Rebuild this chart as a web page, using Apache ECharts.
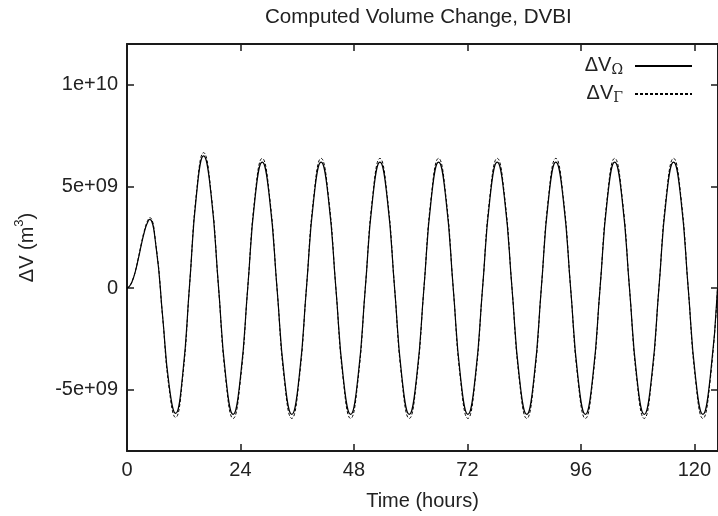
<!DOCTYPE html>
<html>
<head>
<meta charset="utf-8">
<script src="https://cdn.jsdelivr.net/npm/echarts@6/dist/echarts.min.js"></script>
<style>html,body{margin:0;padding:0;background:#fff}#c{width:718px;height:516px}</style>
</head>
<body>
<div id="c"></div>
<script>
// Time in hours
const times = [0,0.6,1.2,1.8,2.4,3.0,3.6,4.2,4.8,
  6.17,7.54,8.9,10.27,
  11.75,13.24,14.72,16.2,
  17.76,19.33,20.89,22.45,
  23.99,25.53,27.06,28.6,
  30.16,31.73,33.29,34.85,
  36.4,37.95,39.5,41.05,
  42.61,44.18,45.74,47.3,
  48.85,50.4,51.95,53.5,
  55.05,56.6,58.15,59.7,
  61.25,62.8,64.35,65.9,
  67.45,69.0,70.55,72.1,
  73.65,75.2,76.75,78.3,
  79.86,81.43,82.99,84.55,
  86.09,87.63,89.16,90.7,
  92.26,93.83,95.39,96.95,
  98.5,100.05,101.6,103.15,
  104.71,106.28,107.84,109.4,
  110.95,112.5,114.05,115.6,
  117.15,118.7,120.25,121.8,
  123.35,124.9];

// ΔV_Ω in units of 1e9 m^3
const dvOmega = [0,0.12,0.4,0.85,1.45,2.1,2.7,3.15,3.38,
  1.98,-1.39,-4.75,-6.15,
  -4.3,0.18,4.65,6.5,
  4.64,0.15,-4.34,-6.2,
  -4.38,0,4.38,6.2,
  4.38,0,-4.38,-6.2,
  -4.38,0,4.38,6.2,
  4.38,0,-4.38,-6.2,
  -4.38,0,4.38,6.2,
  4.38,0,-4.38,-6.2,
  -4.38,0,4.38,6.2,
  4.38,0,-4.38,-6.2,
  -4.38,0,4.38,6.2,
  4.38,0,-4.38,-6.2,
  -4.38,0,4.38,6.2,
  4.38,0,-4.38,-6.2,
  -4.38,0,4.38,6.2,
  4.38,0,-4.38,-6.2,
  -4.38,0,4.38,6.2,
  4.38,0,-4.38,-6.2,
  -4.38,0];

// ΔV_Γ in units of 1e9 m^3
const dvGamma = [0,0.12,0.41,0.87,1.49,2.16,2.77,3.23,3.47,
  2.03,-1.44,-4.91,-6.35,
  -4.44,0.16,4.76,6.66,
  4.75,0.13,-4.49,-6.4,
  -4.52,0,4.51,6.38,
  4.51,0,-4.52,-6.4,
  -4.52,0,4.51,6.38,
  4.51,0,-4.52,-6.4,
  -4.52,0,4.51,6.38,
  4.51,0,-4.52,-6.4,
  -4.52,0,4.51,6.38,
  4.51,0,-4.52,-6.4,
  -4.52,0,4.51,6.38,
  4.51,0,-4.52,-6.4,
  -4.52,0,4.51,6.38,
  4.51,0,-4.52,-6.4,
  -4.52,0,4.51,6.38,
  4.51,0,-4.52,-6.4,
  -4.52,0,4.51,6.38,
  4.51,0,-4.52,-6.4,
  -4.52,0];

const SCALE = 1e9;
const xTickValues = [0,24,48,72,96,120];
const yTickValues = [-5e9,0,5e9,1e10];
const yTickLabels = ['-5e+09','0','5e+09','1e+10'];
const seriesNames = ['ΔVΩ','ΔVΓ'];

const FONT = "'Liberation Sans', Arial, Helvetica, sans-serif";
const INK = '#1a1a1a';
const lineAxis = {onZero:false, lineStyle:{color:INK,width:2}};
const tickIn = (vals, len) => ({show:true, inside:true, length:len, customValues:vals, lineStyle:{color:INK,width:1.5}});

const chart = echarts.init(document.getElementById('c'), null, {renderer:'canvas'});
chart.setOption({
  animation:false,
  backgroundColor:'#fff',
  textStyle:{fontFamily:FONT},
  title:{
    text:'Computed Volume Change, DVBI',
    left:265, top:7, padding:0,
    textStyle:{fontSize:20.6, fontWeight:'normal', color:'#222', fontFamily:FONT}
  },
  legend:{
    orient:'vertical', right:25, top:52, padding:0, align:'right',
    itemWidth:57, itemHeight:14, itemGap:3, selectedMode:false,
    itemStyle:{opacity:0},
    data:seriesNames,
    formatter: n => n === seriesNames[0] ? '{a|ΔV}{s|Ω}' : '{a|ΔV}{s|Γ}',
    textStyle:{
      fontFamily:FONT, color:'#222',
      rich:{
        a:{fontSize:20, lineHeight:22, verticalAlign:'top', color:'#222', fontFamily:FONT},
        s:{fontSize:14, lineHeight:14, verticalAlign:'bottom', padding:[11,7,0,0], color:'#222', fontFamily:'DejaVu Serif, serif'}
      }
    }
  },
  grid:{left:127, top:44, right:-2, bottom:65},
  xAxis:[{
    type:'value', min:0, max:125, position:'bottom',
    axisLine:lineAxis, axisTick:tickIn(xTickValues,7), splitLine:{show:false},
    axisLabel:{customValues:xTickValues, fontSize:20, color:'#222', margin:9, fontFamily:FONT},
    name:'Time (hours)', nameLocation:'middle', nameGap:40,
    nameTextStyle:{fontSize:20, color:'#222', fontFamily:FONT}
  },{
    type:'value', min:0, max:125, position:'top',
    axisLine:lineAxis, axisTick:tickIn(xTickValues,7), splitLine:{show:false},
    axisLabel:{show:false}
  }],
  yAxis:[{
    type:'value', min:-8e9, max:1.2e10, position:'left',
    axisLine:lineAxis, axisTick:tickIn(yTickValues,7), splitLine:{show:false},
    axisLabel:{customValues:yTickValues, fontSize:20, color:'#222', margin:9, fontFamily:FONT,
      formatter: v => { const i = yTickValues.indexOf(v); return i >= 0 ? yTickLabels[i] : ''; }},
    name:'{a|ΔV (m}{s|3}{a|)}', nameLocation:'middle', nameGap:84,
    nameTextStyle:{
      color:'#222', fontFamily:FONT,
      rich:{
        a:{fontSize:20, lineHeight:24, verticalAlign:'bottom', color:'#222', fontFamily:FONT},
        s:{fontSize:13, lineHeight:13, verticalAlign:'top', padding:[0,0,18,0], color:'#222', fontFamily:FONT}
      }
    }
  },{
    type:'value', min:-8e9, max:1.2e10, position:'right',
    axisLine:lineAxis, axisTick:tickIn(yTickValues,7), splitLine:{show:false},
    axisLabel:{show:false}
  }],
  series:[{
    name:seriesNames[0], type:'line', smooth:true, symbol:'none', showSymbol:false,
    xAxisIndex:0, yAxisIndex:0,
    lineStyle:{color:'#000', width:1.2, type:'solid'},
    itemStyle:{color:'#000'},
    data: times.map((t,i) => [t, dvOmega[i]*SCALE])
  },{
    name:seriesNames[1], type:'line', smooth:true, symbol:'none', showSymbol:false,
    xAxisIndex:0, yAxisIndex:0,
    lineStyle:{color:'#000', width:1, type:[3,2]},
    itemStyle:{color:'#000'},
    data: times.map((t,i) => [t, dvGamma[i]*SCALE])
  }]
});
</script>
</body>
</html>
